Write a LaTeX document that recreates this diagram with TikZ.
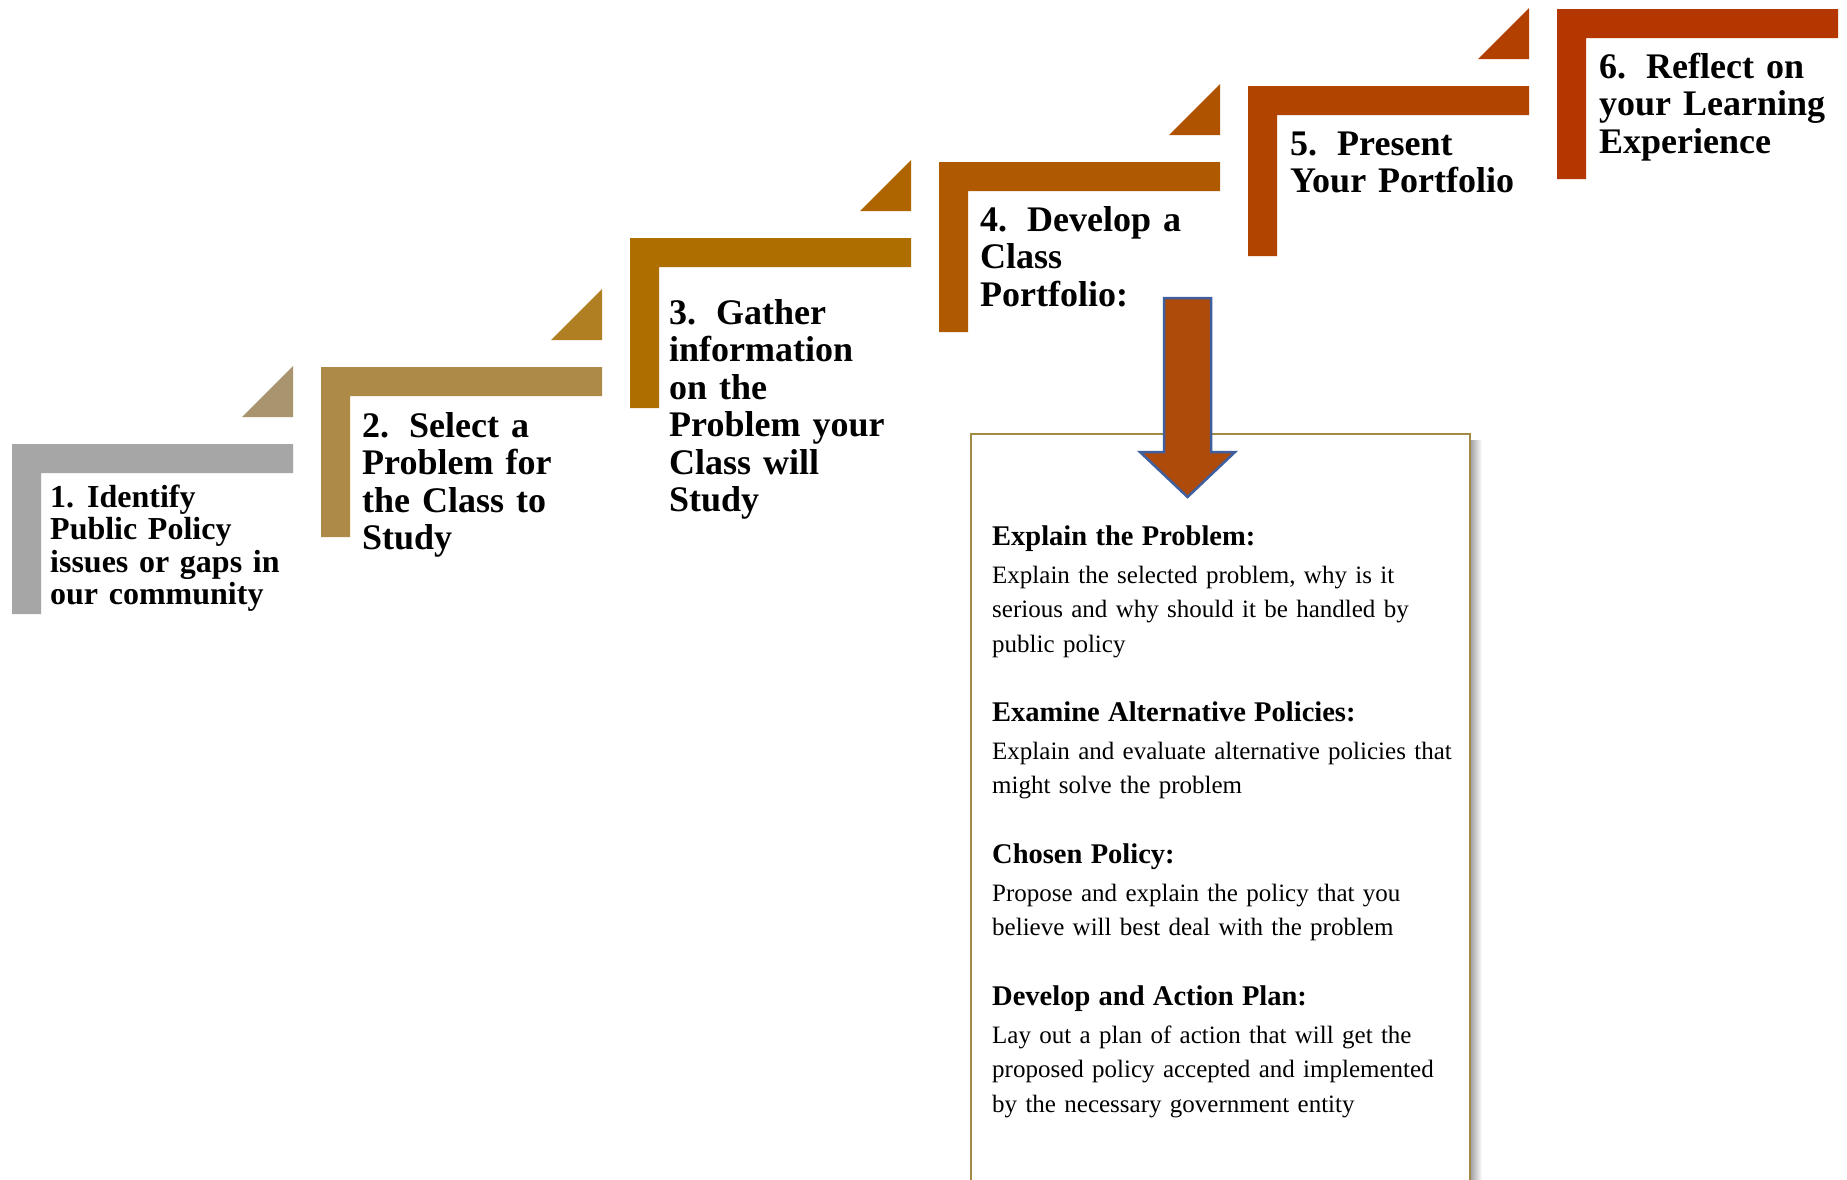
\documentclass[tikz,border=0pt]{standalone}
\usepackage{fontspec}
\setmainfont{Liberation Serif}
\definecolor{Lone}{HTML}{A6A6A6}
\definecolor{Tone}{HTML}{A8956F}
\definecolor{Ltwo}{HTML}{AD8A48}
\definecolor{Ttwo}{HTML}{AF7F21}
\definecolor{Lthree}{HTML}{AE6F00}
\definecolor{Tthree}{HTML}{AE6500}
\definecolor{Lfour}{HTML}{AF5A00}
\definecolor{Tfour}{HTML}{AF5300}
\definecolor{Lfive}{HTML}{B14500}
\definecolor{Tfive}{HTML}{B24000}
\definecolor{Lsix}{HTML}{B43700}
\definecolor{arrowfill}{HTML}{AE4B0B}
\definecolor{arrowline}{HTML}{3F5F9F}
\definecolor{boxline}{HTML}{A08A45}
\tikzset{
  steptext/.style={anchor=base west, inner sep=0pt, text width=300pt, align=left,
    font=\fontsize{36}{37.5}\selectfont\bfseries},
  smallstep/.style={font=\fontsize{32}{32.6}\selectfont\bfseries},
  boxtext/.style={anchor=base west, inner sep=0pt, text width=470pt, align=left,
    font=\fontsize{25}{34.5}\selectfont},
  boxframe/.style={draw=boxline, line width=1.8pt},
  bigarrow/.style={fill=arrowfill, draw=arrowline, line width=2.5pt, line join=miter}
}
\newcommand\hd[1]{{\fontsize{28.5}{34.5}\selectfont\bfseries #1}}
\begin{document}
\begin{tikzpicture}[x=1pt,y=-1pt]
\useasboundingbox (0,0) rectangle (1847,1179);
\clip (0,0) rectangle (1847,1179);
\fill[white] (0,0) rectangle (1847,1179);
% L-shaped step bars
\foreach \x/\y/\c in {12/444/Lone, 321/367/Ltwo, 630/238/Lthree, 939/162/Lfour, 1248/86/Lfive, 1557/9/Lsix}{
  \fill[\c] (\x,\y) -- ++(281,0) -- ++(0,29) -- ++(-252,0) -- ++(0,141) -- ++(-29,0) -- cycle;
}
% triangles
\foreach \x/\y/\c in {12/444/Tone, 321/367/Ttwo, 630/238/Tthree, 939/162/Tfour, 1248/86/Tfive}{
  \fill[\c] (\x+281,\y-78) -- (\x+281,\y-27) -- (\x+230,\y-27) -- cycle;
}
% step texts
\node[steptext, smallstep] (s1) at (50,507) {1.\hspace{13pt}Identify\\Public Policy\\issues or gaps in\\our community};
\node[steptext] (s2) at (362,437) {2.\hspace{20pt}Select a\\Problem for\\the Class to\\Study};
\node[steptext] (s3) at (669,324) {3.\hspace{20pt}Gather\\information\\on the\\Problem your\\Class will\\Study};
\node[steptext] (s4) at (980,231) {4.\hspace{20pt}Develop a\\Class\\Portfolio:};
\node[steptext] (s5) at (1290,155) {5.\hspace{20pt}Present\\Your Portfolio};
\node[steptext] (s6) at (1599,78) {6.\hspace{20pt}Reflect on\\your Learning\\Experience};
% portfolio box with shadow
\shade[left color=black!35, right color=white] (1471,440) rectangle (1482,1190);
\fill[white] (971,434) rectangle (1470,1190);
\draw[boxframe] (971,1190) -- (971,434) -- (1470,434) -- (1470,1190);
% arrow
\draw[bigarrow] (1164,298) -- (1211,298) -- (1211,452) -- (1235,452) -- (1187.5,497) -- (1140,452) -- (1164,452) -- cycle;
% box texts
\node[boxtext] (b1) at (992,545) {\hd{Explain the Problem:}\\[3.5pt]Explain the selected problem, why is it\\serious and why should it be handled by\\public policy};
\node[boxtext] (b2) at (992,721) {\hd{Examine Alternative Policies:}\\[3.5pt]Explain and evaluate alternative policies that\\might solve the problem};
\node[boxtext] (b3) at (992,863) {\hd{Chosen Policy:}\\[3.5pt]Propose and explain the policy that you\\believe will best deal with the problem};
\node[boxtext] (b4) at (992,1005) {\hd{Develop and Action Plan:}\\[3.5pt]Lay out a plan of action that will get the\\proposed policy accepted and implemented\\by the necessary government entity};
\end{tikzpicture}
\end{document}
